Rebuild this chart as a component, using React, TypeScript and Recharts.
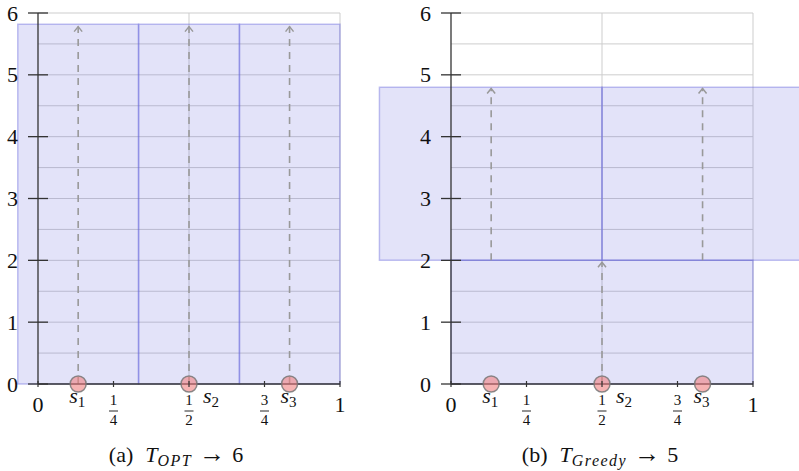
import {
  ComposedChart,
  Line,
  Scatter,
  XAxis,
  YAxis,
  CartesianGrid,
  ReferenceArea,
} from "recharts";

const serif = "'Liberation Serif', 'Times New Roman', serif";

// axes and grid
const xTicks = [0, 0.25, 0.5, 0.75, 1];
const xTickLabels = ["0", "1/4", "1/2", "3/4", "1"];
const yTicks = [0, 1, 2, 3, 4, 5, 6];
const gridY = [0.5, 1, 1.5, 2, 2.5, 3, 3.5, 4, 4.5, 5, 5.5, 6];
const gridX = [0.5, 1];

// sensors on the line
const sensorX = [0.133, 0.5, 0.833];
const sensorNames = ["1", "2", "3"];

// (a) optimal
const optRegionX1 = [-0.067, 0.333, 0.667];
const optRegionX2 = [0.333, 0.667, 1];
const optRegionY1 = [0, 0, 0];
const optRegionY2 = [5.82, 5.82, 5.82];
const optArrowY1 = [0, 0, 0];
const optArrowY2 = [5.78, 5.78, 5.78];

// (b) greedy
const greedyRegionX1 = [0, -0.237, 0.5];
const greedyRegionX2 = [1, 0.5, 1.17];
const greedyRegionY1 = [0, 2, 2];
const greedyRegionY2 = [2, 4.8, 4.8];
const greedyArrowY1 = [2, 0, 2];
const greedyArrowY2 = [4.78, 1.97, 4.78];

function YTick(props: any) {
  const { x, y, payload } = props;
  return (
    <g>
      <line x1={x - 10} x2={x + 10} y1={y} y2={y} stroke="#333" strokeWidth={1.3} />
      <text x={x - 20} y={y} textAnchor="end" dominantBaseline="central" fontFamily={serif} fontSize={22} fill="#111">
        {payload.value}
      </text>
    </g>
  );
}

function XTick(props: any) {
  const { x, y, payload } = props;
  const label = xTickLabels[xTicks.indexOf(payload.value)] ?? "";
  const parts = label.split("/");
  return (
    <g>
      <line x1={x} x2={x} y1={y - 3} y2={y + 3} stroke="#333" strokeWidth={1.2} />
      {parts.length === 1 ? (
        <text x={x} y={y + 20} textAnchor="middle" dominantBaseline="central" fontFamily={serif} fontSize={22} fill="#111">
          {label}
        </text>
      ) : (
        <>
          <text x={x} y={y + 16} textAnchor="middle" dominantBaseline="central" fontFamily={serif} fontSize={15} fill="#111">
            {parts[0]}
          </text>
          <line x1={x - 4.5} x2={x + 4.5} y1={y + 27} y2={y + 27} stroke="#111" strokeWidth={0.9} />
          <text x={x} y={y + 36} textAnchor="middle" dominantBaseline="central" fontFamily={serif} fontSize={15} fill="#111">
            {parts[1]}
          </text>
        </>
      )}
    </g>
  );
}

function ArrowHead(props: any) {
  const { cx, cy, index } = props;
  if (index !== 1) return <g key={`a-${index}`} />;
  return (
    <path
      key={`a-${index}`}
      d={`M${cx - 4},${cy + 5} L${cx},${cy} L${cx + 4},${cy + 5}`}
      fill="none"
      stroke="#999"
      strokeWidth={1.5}
    />
  );
}

function SensorDot(props: any) {
  const { cx, cy, payload } = props;
  const dx = payload.name === "2" ? 22 : -1;
  return (
    <g>
      <circle cx={cx} cy={cy} r={8} fill="#f08080" fillOpacity={0.6} stroke="#777" strokeOpacity={0.85} strokeWidth={1.5} />
      <text x={cx + dx} y={cy + 19} textAnchor="middle" fontFamily={serif} fontStyle="italic" fontSize={22} fill="#111">
        s
        <tspan dy={4} fontSize={15} fontStyle="normal">
          {payload.name}
        </tspan>
      </text>
    </g>
  );
}

interface PanelProps {
  left: number;
  width: number;
  mLeft: number;
  mRight: number;
  x1s: number[];
  x2s: number[];
  y1s: number[];
  y2s: number[];
  ay1: number[];
  ay2: number[];
}

function Panel({ left, width, mLeft, mRight, x1s, x2s, y1s, y2s, ay1, ay2 }: PanelProps) {
  const arrows = sensorX.map((x, i) => [
    { x, y: ay1[i] },
    { x, y: ay2[i] },
  ]);
  const points = sensorX.map((x, i) => ({ x, y: 0, name: sensorNames[i] }));
  const axisStyle = { stroke: "#333", strokeWidth: 1.3 };

  return (
    <div style={{ position: "absolute", left, top: 0 }}>
      <ComposedChart width={width} height={471} margin={{ top: 13, right: mRight, bottom: 86, left: mLeft }}>
        <CartesianGrid horizontalValues={gridY} verticalValues={gridX} stroke="#cdcdcd" strokeWidth={1} />
        <XAxis
          type="number"
          dataKey="x"
          domain={[0, 1]}
          ticks={xTicks}
          interval={0}
          height={1}
          tickSize={0}
          tickMargin={0}
          tickLine={false}
          axisLine={axisStyle}
          tick={<XTick />}
        />
        <YAxis
          type="number"
          dataKey="y"
          domain={[0, 6]}
          ticks={yTicks}
          interval={0}
          width={1}
          tickSize={0}
          tickMargin={0}
          tickLine={false}
          axisLine={axisStyle}
          tick={<YTick />}
        />
        {x1s.map((x1, i) => (
          <ReferenceArea
            key={`r${i}`}
            x1={x1}
            x2={x2s[i]}
            y1={y1s[i]}
            y2={y2s[i]}
            ifOverflow="visible"
            fill="#6464dc"
            fillOpacity={0.18}
            stroke="#6464dc"
            strokeOpacity={0.4}
            strokeWidth={1.5}
          />
        ))}
        {arrows.map((d, i) => (
          <Line
            key={`l${i}`}
            data={d}
            dataKey="y"
            type="linear"
            stroke="#999"
            strokeWidth={1.6}
            strokeDasharray="7 6"
            dot={ArrowHead}
            activeDot={false}
            isAnimationActive={false}
          />
        ))}
        <Scatter data={points} shape={SensorDot} isAnimationActive={false} />
      </ComposedChart>
    </div>
  );
}

function Caption({ center, tag, sub, value }: { center: number; tag: string; sub: string; value: string }) {
  return (
    <div
      style={{
        position: "absolute",
        left: center - 150,
        width: 300,
        top: 443,
        textAlign: "center",
        fontFamily: serif,
        fontSize: 22,
        lineHeight: "22px",
        color: "#111",
        whiteSpace: "nowrap",
      }}
    >
      ({tag})<span style={{ marginLeft: 12 }} />
      <i>T</i>
      <i style={{ fontSize: 16, letterSpacing: "1.5px", verticalAlign: "-4px" }}>{sub}</i>
      <span style={{ margin: "0 7px", fontSize: 26 }}>→</span>
      {value}
    </div>
  );
}

export default function App() {
  return (
    <div style={{ position: "absolute", left: 0, top: 0, width: 799, height: 471, background: "#fff", overflow: "hidden" }}>
      <Panel
        left={0}
        width={370}
        mLeft={37}
        mRight={30}
        x1s={optRegionX1}
        x2s={optRegionX2}
        y1s={optRegionY1}
        y2s={optRegionY2}
        ay1={optArrowY1}
        ay2={optArrowY2}
      />
      <Panel
        left={370}
        width={429}
        mLeft={80}
        mRight={46}
        x1s={greedyRegionX1}
        x2s={greedyRegionX2}
        y1s={greedyRegionY1}
        y2s={greedyRegionY2}
        ay1={greedyArrowY1}
        ay2={greedyArrowY2}
      />
      <Caption center={176} tag="a" sub="OPT" value="6" />
      <Caption center={600} tag="b" sub="Greedy" value="5" />
    </div>
  );
}
